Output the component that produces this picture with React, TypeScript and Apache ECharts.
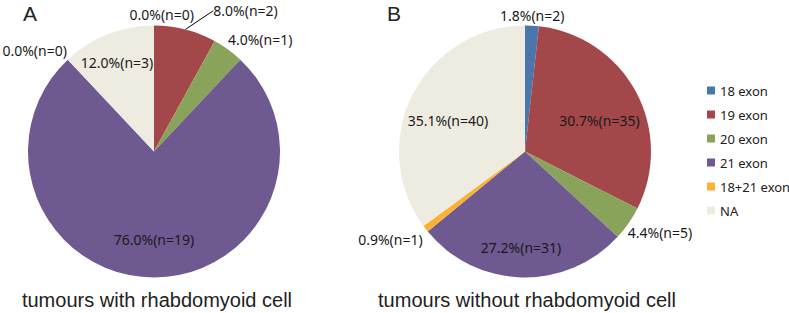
import React, { useEffect, useRef } from 'react';
import * as echarts from 'echarts';

const categories = ['18 exon', '19 exon', '20 exon', '21 exon', '18+21 exon', 'NA'];
const withRhabdoid = [0, 2, 1, 19, 0, 3];
const withoutRhabdoid = [2, 35, 5, 31, 1, 40];
const panelLetters = ['A', 'B'];
const panelTitles = ['tumours with rhabdomyoid cell', 'tumours without rhabdomyoid cell'];

const COLORS = ['#4A76AC', '#A4474B', '#89A45A', '#6E5991', '#F9B233', '#EEEBE0'];
const LABEL_FONT = 'Noto Sans';
const CENTERS: [number, number][] = [[154, 151.5], [525, 151.5]];
const RADIUS = 126;
// small label nudges [dx, dy] per slice, relative to the library's own label placement
const NUDGES_A = [[45, -1.5], [21, -11], [-11, -2], [0, 0], [11, -2], [-4.6, -6.7]];
const NUDGES_B = [[-37.5, 0], [-3, 11], [-14, 4], [-1.5, 8.5], [10, 4], [1.5, 9]];

function buildSeries(values: number[], center: [number, number], nudges: number[][], lineIndex: number) {
  const total = values.reduce((a, b) => a + b, 0);
  const main = {
    type: 'pie',
    center,
    radius: [0, RADIUS],
    startAngle: 90,
    clockwise: true,
    silent: true,
    label: { show: false },
    labelLine: { show: false },
    data: categories.map((name, i) => ({ name, value: values[i], itemStyle: { color: COLORS[i] } })),
  };
  const overlay = {
    type: 'pie',
    center,
    radius: [44, RADIUS],
    startAngle: 90,
    clockwise: true,
    silent: true,
    avoidLabelOverlap: false,
    itemStyle: { color: 'rgba(0,0,0,0)' },
    label: {
      show: true,
      fontSize: 14,
      fontFamily: LABEL_FONT,
      color: '#1a1a1a',
      formatter: (p: any) => `${((p.value / total) * 100).toFixed(1)}%(n=${p.value})`,
    },
    labelLine: { show: false, length: 10, length2: 0 },
    labelLayout: (p: any) => {
      const n = nudges[p.dataIndex];
      if (!n || (n[0] === 0 && n[1] === 0)) return {};
      if (p.dataIndex === lineIndex && p.labelRect) {
        // move the label by an offset and let the library re-route its leader line
        return {
          x: p.labelRect.x + n[0],
          y: p.labelRect.y + p.labelRect.height / 2 + n[1],
          align: 'left',
          verticalAlign: 'middle',
        };
      }
      return { dx: n[0], dy: n[1] };
    },
    data: categories.map((name, i) => {
      const share = values[i] / total;
      const item: any = {
        name,
        value: values[i],
        label: { position: share >= 0.1 ? 'inside' : 'outside' },
      };
      if (i === lineIndex) {
        item.labelLine = { show: true, length: 8, length2: 0, lineStyle: { color: '#000', width: 1 } };
      }
      return item;
    }),
  };
  return [main, overlay];
}

export default function App() {
  const ref = useRef<HTMLDivElement>(null);
  useEffect(() => {
    if (!ref.current) return;
    const chart = echarts.init(ref.current, null, { renderer: 'svg' });
    const option: any = {
      animation: false,
      backgroundColor: '#ffffff',
      legend: {
        orient: 'vertical',
        left: 702,
        top: 79,
        itemWidth: 8,
        itemHeight: 8,
        itemGap: 11,
        icon: 'rect',
        selectedMode: false,
        textStyle: { fontSize: 13, fontFamily: LABEL_FONT, color: '#222' },
        data: categories,
      },
      series: [
        ...buildSeries(withRhabdoid, CENTERS[0], NUDGES_A, 1),
        ...buildSeries(withoutRhabdoid, CENTERS[1], NUDGES_B, -1),
      ],
      graphic: [
        { type: 'text', x: 23, y: 13, style: { text: panelLetters[0], fontSize: 21, fontFamily: 'Liberation Sans', fill: '#222', align: 'left', verticalAlign: 'middle' } },
        { type: 'text', x: 387, y: 13, style: { text: panelLetters[1], fontSize: 21, fontFamily: 'Liberation Sans', fill: '#222', align: 'left', verticalAlign: 'middle' } },
        { type: 'text', x: 157, y: 300, style: { text: panelTitles[0], fontSize: 20, fontFamily: 'Liberation Sans', fill: '#222', align: 'center', verticalAlign: 'middle' } },
        { type: 'text', x: 527, y: 300, style: { text: panelTitles[1], fontSize: 20, fontFamily: 'Liberation Sans', fill: '#222', align: 'center', verticalAlign: 'middle' } },
      ],
    };
    chart.setOption(option);
    return () => chart.dispose();
  }, []);
  return <div ref={ref} style={{ position: 'fixed', left: 0, top: 0, width: 789, height: 313 }} />;
}
